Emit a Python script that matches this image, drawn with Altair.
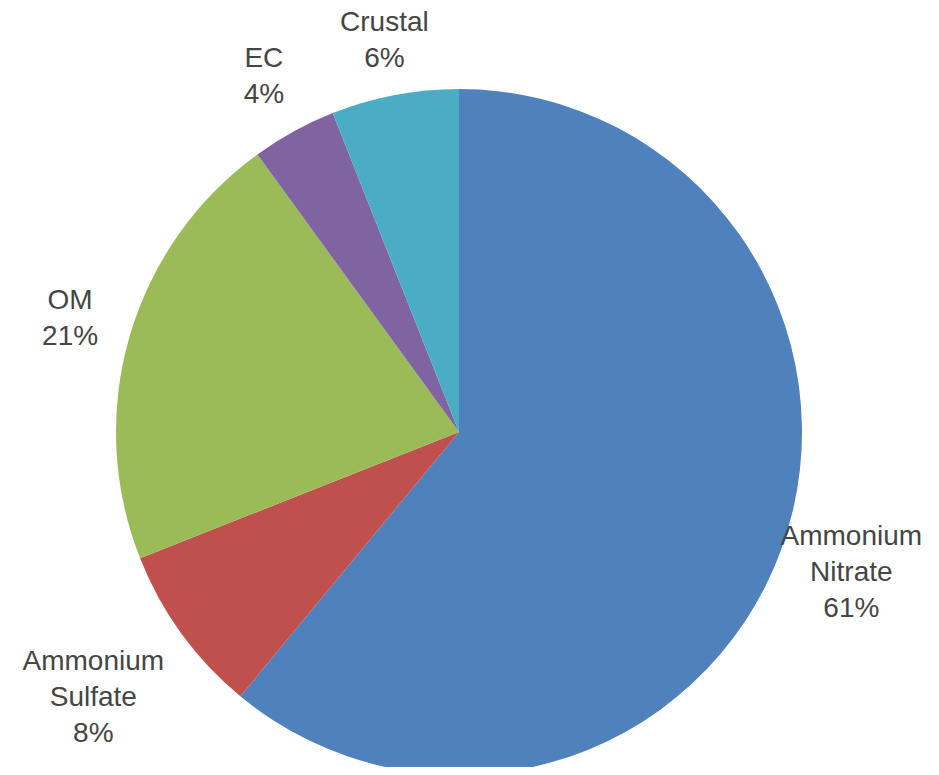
import altair as alt
import pandas as pd

categories = ["Ammonium Nitrate", "Ammonium Sulfate", "OM", "EC", "Crustal"]
values = [61, 8, 21, 4, 6]
colors = ["#4F81BD", "#C0504D", "#9BBB59", "#8064A2", "#4BACC6"]

df = pd.DataFrame({
    "category": categories,
    "value": values,
    "idx": list(range(len(categories))),
    "label": [c.replace(" ", "\n") + "\n" + f"{v}%" for c, v in zip(categories, values)],
})

theta_scale = alt.Scale(domain=[0, 100])

pie = alt.Chart(df).mark_arc(outerRadius=343).encode(
    theta=alt.Theta("value:Q", stack=True, scale=theta_scale),
    order=alt.Order("idx:Q", sort="ascending"),
    color=alt.Color("category:N", scale=alt.Scale(domain=categories, range=colors), legend=None),
    x=alt.value(451),
    y=alt.value(424),
)

text_base = alt.Chart(df).transform_window(
    cum="sum(value)", sort=[alt.SortField("idx", order="ascending")]
).transform_calculate(
    mid="datum.cum - datum.value / 2",
    lr=("datum.category == 'Ammonium Sulfate' ? 452 : "
        "(datum.category == 'Ammonium Nitrate' ? 417 : "
        "(datum.category == 'Crustal' ? 398 : 405))"),
    nlines="indexof(datum.category, ' ') >= 0 ? 3 : 2",
).encode(
    theta=alt.Theta("mid:Q", stack=None, scale=theta_scale),
    radius=alt.Radius("lr:Q", scale=None, stack=None),
    text="label:N",
    x=alt.value(451),
    y=alt.value(424),
)

text_style = dict(
    font="Liberation Sans", fontSize=28, lineBreak="\n", lineHeight=36,
    align="center", baseline="middle", color="#454545",
)

text3 = text_base.transform_filter("datum.nlines == 3").mark_text(dy=-36, **text_style)
text2 = text_base.transform_filter("datum.nlines == 2").mark_text(dy=-18, **text_style)

chart = (pie + text3 + text2).properties(
    width=923, height=759, padding=0, autosize=alt.AutoSizeParams(type="none")
).configure_view(stroke=None)

chart.save("out.html", embed_options={"renderer": "svg", "actions": False})
